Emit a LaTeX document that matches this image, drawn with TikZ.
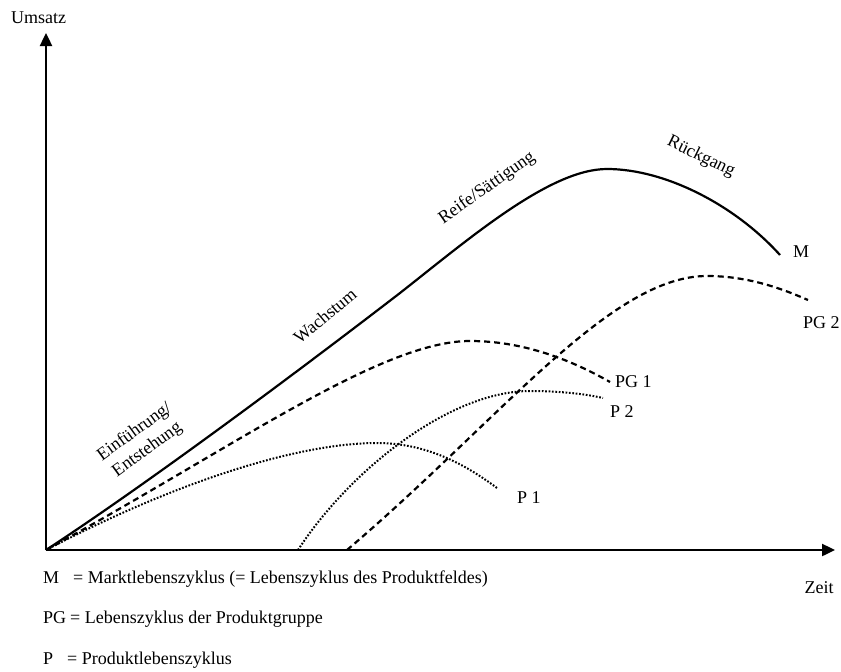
\documentclass[tikz,border=0pt]{standalone}
\usepackage{fontspec}
\setmainfont{Liberation Serif}
\usetikzlibrary{arrows.meta}
\begin{document}
\begin{tikzpicture}[x=1pt,y=-1pt,
  every node/.style={font=\fontsize{18}{21.6}\selectfont, inner sep=0pt},
  axis/.style={line width=2.4pt, -{Triangle[length=13pt,width=12pt]}},
  mcurve/.style={line width=2.2pt},
  pgcurve/.style={line width=2.2pt, dash pattern=on 6pt off 4pt},
  pcurve/.style={line width=2pt, dash pattern=on 1.7pt off 1.7pt},
  phase/.style={align=center},
  curvelabel/.style={anchor=base west},
  legend/.style={anchor=base west}]
\useasboundingbox (0,0) rectangle (841,672);

% axes
\coordinate (O) at (46,550);
\coordinate (ytip) at (46,33);
\coordinate (xtip) at (835,550);
\draw[axis] (O) -- (ytip);
\draw[axis] (O) -- (xtip);
\node[anchor=base] (umsatz) at (38.5,23) {Umsatz};
\node[anchor=base] (zeit) at (819,593) {Zeit};

% market life cycle
\draw[mcurve] (O) .. controls (150,482) and (300,370) .. (400,293)
  .. controls (470,238) and (550,169) .. (607,169)
  .. controls (665,169) and (735,205) .. (780,255);
% product group 1
\draw[pgcurve] (O) .. controls (230,450) and (380,341) .. (470,341)
  .. controls (530,341) and (580,365) .. (610,382);
% product group 2
\draw[pgcurve] (347,550) .. controls (500,420) and (610,276) .. (707,276)
  .. controls (750,276) and (785,290) .. (808,300);
% product 1
\draw[pcurve] (O) .. controls (180,480) and (300,443) .. (377,443)
  .. controls (430,443) and (470,468) .. (497,488);
% product 2
\draw[pcurve] (298,550) .. controls (350,470) and (450,391) .. (530,391)
  .. controls (565,391) and (590,395) .. (603,398);

% curve labels
\node[curvelabel] (lM) at (793,257) {M};
\node[curvelabel] (lPG2) at (803,328) {PG 2};
\node[curvelabel] (lPG1) at (615,387) {PG 1};
\node[curvelabel] (lP2) at (610,417) {P 2};
\node[curvelabel] (lP1) at (517,503) {P 1};

% phases
\node[phase, rotate=36] (einf) at (141,441) {Einführung/\\Entstehung};
\node[phase, rotate=40] (wachs) at (325,316) {Wachstum};
\node[phase, rotate=35] (reife) at (487,188) {Reife/Sättigung};
\node[phase, rotate=-26] (rueck) at (701,157) {Rückgang};

% legend
\node[legend] (kM) at (43,583) {M};
\node[legend] (tM) at (73,583) {= Marktlebenszyklus (= Lebenszyklus des Produktfeldes)};
\node[legend] (kPG) at (43,623) {PG};
\node[legend] (tPG) at (70,623) {= Lebenszyklus der Produktgruppe};
\node[legend] (kP) at (43,664) {P};
\node[legend] (tP) at (67,664) {= Produktlebenszyklus};
\end{tikzpicture}
\end{document}
